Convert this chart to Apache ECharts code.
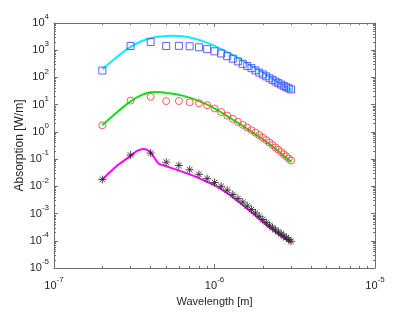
<!DOCTYPE html>
<html>
<head>
<meta charset="utf-8">
<script src="https://cdn.jsdelivr.net/npm/echarts@6/dist/echarts.min.js"></script>
<style>
html,body{margin:0;padding:0;background:#fff;}
#chart{width:415px;height:312px;}
</style>
</head>
<body>
<div id="chart"></div>
<script>
// ---- data ----
const markerWavelengths = [2e-7,3e-7,4e-7,5e-7,6e-7,7e-7,8e-7,9e-7,1.0e-6,1.1e-6,1.2e-6,1.3e-6,1.4e-6,1.5e-6,1.6e-6,1.7e-6,1.8e-6,1.9e-6,2.0e-6,2.1e-6,2.2e-6,2.3e-6,2.4e-6,2.5e-6,2.6e-6,2.7e-6,2.8e-6,2.9e-6,3.0e-6];
const squareValues = [179,1430,2000,1430,1450,1400,1280,1100,912,759,603,490,389,316,263,219,182,151,129,110,93.3,81.3,70.8,61.7,55.0,49.0,43.7,39.8,36.3];
const circleValues = [1.74,14.1,19.5,13.5,13.6,12.3,11.2,9.55,7.24,5.37,3.98,3.02,2.34,1.82,1.45,1.15,0.933,0.759,0.617,0.501,0.407,0.331,0.269,0.221,0.182,0.151,0.126,0.105,0.0891];
const starValues = [0.0178,0.141,0.167,0.0769,0.0585,0.0407,0.0275,0.0192,0.0138,0.0100,0.00724,0.00501,0.00355,0.00263,0.00191,0.00141,0.00105,7.94e-4,6.03e-4,4.68e-4,3.72e-4,3.02e-4,2.51e-4,2.09e-4,1.78e-4,1.51e-4,1.29e-4,1.12e-4,9.55e-5];

const curveWavelengths = [2.0e-7,2.5e-7,3.0e-7,3.5e-7,4.0e-7,4.5e-7,5.0e-7,5.5e-7,6.0e-7,7e-7,8e-7,9e-7,1.0e-6,1.2e-6,1.4e-6,1.6e-6,1.8e-6,2.0e-6,2.2e-6,2.4e-6,2.6e-6,2.8e-6,3.0e-6];
const cyanValues = [200,603,1318,2138,2754,3162,3311,3388,3311,2951,2399,1862,1445,851,525,324,219,151,105,75.9,57.5,43.7,34.7];
const greenValues = [1.78,5.62,13.2,22.4,28.8,29.5,26.9,25.1,22.9,18.2,13.5,10.0,7.24,3.80,2.14,1.29,0.813,0.537,0.355,0.240,0.162,0.112,0.0794];

const magentaWavelengths = [2.0e-7,2.5e-7,3.0e-7,3.3e-7,3.6e-7,3.8e-7,4.0e-7,4.2e-7,4.5e-7,5e-7,6e-7,7e-7,8e-7,9e-7,1.0e-6,1.2e-6,1.4e-6,1.6e-6,1.8e-6,2.0e-6,2.2e-6,2.4e-6,2.6e-6,2.8e-6,3.0e-6];
const magentaValues = [0.0178,0.0603,0.132,0.200,0.234,0.219,0.178,0.117,0.0676,0.0550,0.0380,0.0275,0.0200,0.0145,0.0110,0.00562,0.00282,0.00151,8.51e-4,5.01e-4,3.16e-4,2.14e-4,1.51e-4,1.12e-4,8.71e-5];

const xMinorTicks = [2e-7,3e-7,4e-7,5e-7,6e-7,7e-7,8e-7,9e-7,2e-6,3e-6,4e-6,5e-6,6e-6,7e-6,8e-6,9e-6];
const yMinorTicks = [];
const yDecades = [-5,-4,-3,-2,-1,0,1,2,3];
yDecades.forEach(function(d){ [2,3,4,5,6,7,8,9].forEach(function(m){ yMinorTicks.push(m*Math.pow(10,d)); }); });

// ---- chart ----
const FONT = '"Liberation Sans", Arial, sans-serif';
const AXIS_COLOR = '#707070';
const TEXT_COLOR = '#262626';
function pair(a, b){ return a.map(function(v,i){ return [v, b[i]]; }); }
function supLabel(v){
  const e = Math.round(Math.log10(v));
  return '{b|10}{s|' + e + '}';
}
const richX = {
  b:{fontSize:11, fontFamily:FONT, color:TEXT_COLOR, lineHeight:20, verticalAlign:'middle'},
  s:{fontSize:8, fontFamily:FONT, color:TEXT_COLOR, lineHeight:10, verticalAlign:'top'}
};
function majorAxis(show, extra){
  return Object.assign({
    type:'log', logBase:10,
    axisLine:{show:true, onZero:false, lineStyle:{color:AXIS_COLOR, width:1}},
    axisTick:{show:true, inside:true, length:4, lineStyle:{color:AXIS_COLOR}},
    axisLabel:{show:show},
    splitLine:{show:false},
    minorTick:{show:false}
  }, extra);
}
function minorAxis(extra, values){
  return Object.assign({
    type:'log', logBase:10,
    axisLine:{show:false},
    axisTick:{show:true, inside:true, length:2, lineStyle:{color:AXIS_COLOR}, customValues:values},
    axisLabel:{show:false},
    splitLine:{show:false}
  }, extra);
}
const xr = {min:1e-7, max:1e-5};
const yr = {min:1e-5, max:1e4};

const chart = echarts.init(document.getElementById('chart'), null, {renderer:'canvas'});
chart.setOption({
  animation:false,
  backgroundColor:'#ffffff',
  grid:{left:54, right:40, top:23, bottom:40, containLabel:false},
  xAxis:[
    majorAxis(true, Object.assign({position:'bottom', interval:1,
      name:'Wavelength [m]', nameLocation:'middle', nameGap:28, nameMoveOverlap:false,
      nameTextStyle:{fontSize:11, fontFamily:FONT, color:TEXT_COLOR},
      axisLabel:{show:true, margin:8, formatter:supLabel, rich:richX}}, xr)),
    minorAxis(Object.assign({position:'bottom'}, xr), xMinorTicks),
    majorAxis(false, Object.assign({position:'top', interval:1}, xr)),
    minorAxis(Object.assign({position:'top'}, xr), xMinorTicks)
  ],
  yAxis:[
    majorAxis(true, Object.assign({position:'left', interval:1,
      name:'Absorption [W/m]', nameLocation:'middle', nameGap:28, nameMoveOverlap:false,
      nameTextStyle:{fontSize:12, fontFamily:FONT, color:TEXT_COLOR},
      axisLabel:{show:true, margin:5, formatter:supLabel, rich:richX}}, yr)),
    minorAxis(Object.assign({position:'left'}, yr), yMinorTicks),
    majorAxis(false, Object.assign({position:'right', interval:1}, yr)),
    minorAxis(Object.assign({position:'right'}, yr), yMinorTicks)
  ],
  series:[
    {type:'line', name:'cyan', data:pair(curveWavelengths, cyanValues), smooth:0.3, showSymbol:false,
      lineStyle:{color:'#00f0ff', width:2}, z:2},
    {type:'line', name:'green', data:pair(curveWavelengths, greenValues), smooth:0.3, showSymbol:false,
      lineStyle:{color:'#10e010', width:2}, z:2},
    {type:'line', name:'magenta', data:pair(magentaWavelengths, magentaValues), smooth:0.3, showSymbol:false,
      lineStyle:{color:'#ff00ff', width:2}, z:2},
    {type:'scatter', name:'squares', data:pair(markerWavelengths, squareValues), symbol:'rect', symbolSize:7,
      itemStyle:{color:'rgba(0,0,0,0)', borderColor:'#4646ff', borderWidth:1, opacity:0.85}, z:3},
    {type:'scatter', name:'circles', data:pair(markerWavelengths, circleValues), symbol:'circle', symbolSize:7,
      itemStyle:{color:'rgba(0,0,0,0)', borderColor:'#ff4040', borderWidth:1, opacity:0.85}, z:3},
    {type:'scatter', name:'stars', data:pair(markerWavelengths, starValues),
      symbol:'path://M5,0L5,10M0,5L10,5M1.5,1.5L8.5,8.5M1.5,8.5L8.5,1.5', symbolSize:8,
      itemStyle:{color:'rgba(0,0,0,0)', borderColor:'#2a2a2a', borderWidth:1, opacity:0.85}, z:3}
  ]
});
</script>
</body>
</html>
